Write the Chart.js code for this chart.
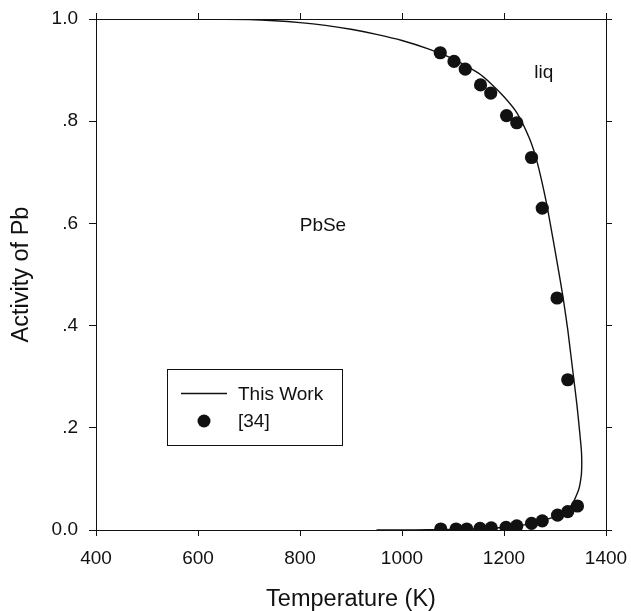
<!DOCTYPE html>
<html>
<head>
<meta charset="utf-8">
<script src="https://cdn.jsdelivr.net/npm/chart.js@4.4.1/dist/chart.umd.min.js"></script>
<style>
  html, body { margin: 0; padding: 0; background: #fff; }
  canvas { display: block; }
</style>
</head>
<body>
<canvas id="activityCanvas" width="631" height="611"></canvas>
<script>
// Activity of Pb vs temperature, PbSe / liquid boundary

// calculated curve ("This Work"), upper branch then lower branch
const curveT = [600, 700, 750, 800, 850, 900, 950, 1000, 1050, 1100, 1150, 1175, 1200, 1225, 1250, 1265, 1282, 1296, 1310, 1316, 1325, 1337, 1343, 1348, 1352, 1352, 1349, 1346, 1335, 1325, 1305, 1275, 1250, 1225, 1200, 1150, 1100, 1050, 1000, 950];
const curveA = [1.000, 0.9988, 0.9967, 0.993, 0.9875, 0.980, 0.970, 0.958, 0.942, 0.922, 0.894, 0.873, 0.848, 0.817, 0.766, 0.72, 0.646, 0.57, 0.49, 0.454, 0.392, 0.294, 0.245, 0.196, 0.151, 0.112, 0.090, 0.078, 0.053, 0.040, 0.028, 0.018, 0.012, 0.008, 0.005, 0.0025, 0.0012, 0.0005, 0.0002, 0.0];

// measured points [34]
const expT = [1075, 1102, 1124, 1154, 1174, 1205, 1225, 1254, 1275, 1304, 1325,
              1076, 1106, 1127, 1153, 1175, 1204, 1225, 1254, 1275, 1305, 1325, 1344];
const expA = [0.934, 0.917, 0.902, 0.871, 0.855, 0.811, 0.797, 0.729, 0.630, 0.454, 0.294,
              0.002, 0.002, 0.002, 0.003, 0.004, 0.005, 0.008, 0.013, 0.018, 0.029, 0.036, 0.047];

// text inside the plot
const labelText = ["PbSe", "liq"];
const labelT = [845, 1278];
const labelA = [0.595, 0.895];

const xTicks = [400, 600, 800, 1000, 1200, 1400];
const yTicks = [0, 0.2, 0.4, 0.6, 0.8, 1.0];

Chart.defaults.font.family = "'Liberation Sans', Arial, sans-serif";
Chart.defaults.color = "#111";

const curvePts = curveT.map((t, i) => ({x: t, y: curveA[i]}));
const expPts = expT.map((t, i) => ({x: t, y: expA[i]}));

function fmtY(v) {
    if (v === 0) return "0.0";
    if (v === 1) return "1.0";
    return v.toFixed(1).replace(/^0/, "");
}

function gridOpts(len) {
    return {
        drawOnChartArea: false,
        drawTicks: true,
        tickLength: len,
        color: "#111",
        lineWidth: 1,
    };
}

const borderOpts = { display: true, color: "#111", width: 1 };

function fitX(h) {
    return (s) => { s.height = h; s.paddingLeft = 0; s.paddingRight = 0; };
}
function fitY(w) {
    return (s) => { s.width = w; s.paddingTop = 0; s.paddingBottom = 0; };
}

// fixed legend box
const legendBox = {
    id: "legendBox",
    afterDatasetsDraw(chart) {
        const ctx = chart.ctx;
        const ds = chart.data.datasets;
        ctx.save();
        ctx.strokeStyle = "#111";
        ctx.lineWidth = 1;
        ctx.strokeRect(167.5, 369.5, 175, 76);

        ctx.beginPath();
        ctx.moveTo(181, 393.5);
        ctx.lineTo(227, 393.5);
        ctx.lineWidth = 1.3;
        ctx.stroke();

        ctx.beginPath();
        ctx.arc(204, 421, 6.5, 0, Math.PI * 2);
        ctx.fillStyle = "#111";
        ctx.fill();

        ctx.font = "19px 'Liberation Sans', Arial, sans-serif";
        ctx.textAlign = "left";
        ctx.textBaseline = "middle";
        ctx.fillText(ds[0].label, 238, 395);
        ctx.fillText(ds[1].label, 238, 422);
        ctx.restore();
    }
};

// phase labels placed through the scales
const phaseLabels = {
    id: "phaseLabels",
    afterDatasetsDraw(chart) {
        const ctx = chart.ctx;
        const xs = chart.scales.x, ys = chart.scales.y;
        ctx.save();
        ctx.font = "19px 'Liberation Sans', Arial, sans-serif";
        ctx.fillStyle = "#111";
        ctx.textAlign = "center";
        ctx.textBaseline = "middle";
        labelText.forEach((txt, i) => {
            ctx.fillText(txt, xs.getPixelForValue(labelT[i]), ys.getPixelForValue(labelA[i]));
        });
        ctx.restore();
    }
};

const activityChart = new Chart(document.getElementById("activityCanvas"), {
    type: "scatter",
    data: {
        datasets: [
            {
                label: "This Work",
                data: curvePts,
                showLine: true,
                borderColor: "#111",
                borderWidth: 1.4,
                pointRadius: 0,
                tension: 0.2,
                fill: false,
                order: 2,
            },
            {
                label: "[34]",
                data: expPts,
                showLine: false,
                pointRadius: 6.6,
                pointBackgroundColor: "#111",
                pointBorderColor: "#111",
                pointBorderWidth: 0,
                order: 1,
            },
        ],
    },
    options: {
        responsive: false,
        devicePixelRatio: 1,
        animation: false,
        layout: { padding: 0 },
        plugins: {
            legend: { display: false },
            tooltip: { enabled: false },
        },
        scales: {
            x: {
                type: "linear",
                position: "bottom",
                min: 400,
                max: 1400,
                afterBuildTicks: (s) => { s.ticks = xTicks.map(v => ({value: v})); },
                afterFit: fitX(81),
                ticks: { font: { size: 19 }, color: "#111", padding: 11, maxRotation: 0, callback: (v) => String(v) },
                grid: gridOpts(6),
                border: borderOpts,
                title: {
                    display: true,
                    text: "Temperature (K)",
                    font: { size: 23.5, lineHeight: 1 },
                    color: "#111",
                    padding: 0,
                },
            },
            x2: {
                type: "linear",
                position: "top",
                min: 400,
                max: 1400,
                afterBuildTicks: (s) => { s.ticks = xTicks.map(v => ({value: v})); },
                afterFit: fitX(19),
                ticks: { display: false },
                grid: gridOpts(6),
                border: borderOpts,
            },
            y: {
                type: "linear",
                position: "left",
                min: 0,
                max: 1,
                afterBuildTicks: (s) => { s.ticks = yTicks.map(v => ({value: v})); },
                afterFit: fitY(96),
                ticks: { font: { size: 19 }, color: "#111", padding: 11, callback: (v) => fmtY(v) },
                grid: gridOpts(7),
                border: borderOpts,
                title: {
                    display: true,
                    text: "Activity of Pb",
                    font: { size: 23.5, lineHeight: 1 },
                    color: "#111",
                    padding: { top: 10, bottom: 0 },
                },
            },
            y2: {
                type: "linear",
                position: "right",
                min: 0,
                max: 1,
                afterBuildTicks: (s) => { s.ticks = yTicks.map(v => ({value: v})); },
                afterFit: fitY(25),
                ticks: { display: false },
                grid: gridOpts(6),
                border: borderOpts,
            },
        },
    },
    plugins: [legendBox, phaseLabels],
});
</script>
</body>
</html>
